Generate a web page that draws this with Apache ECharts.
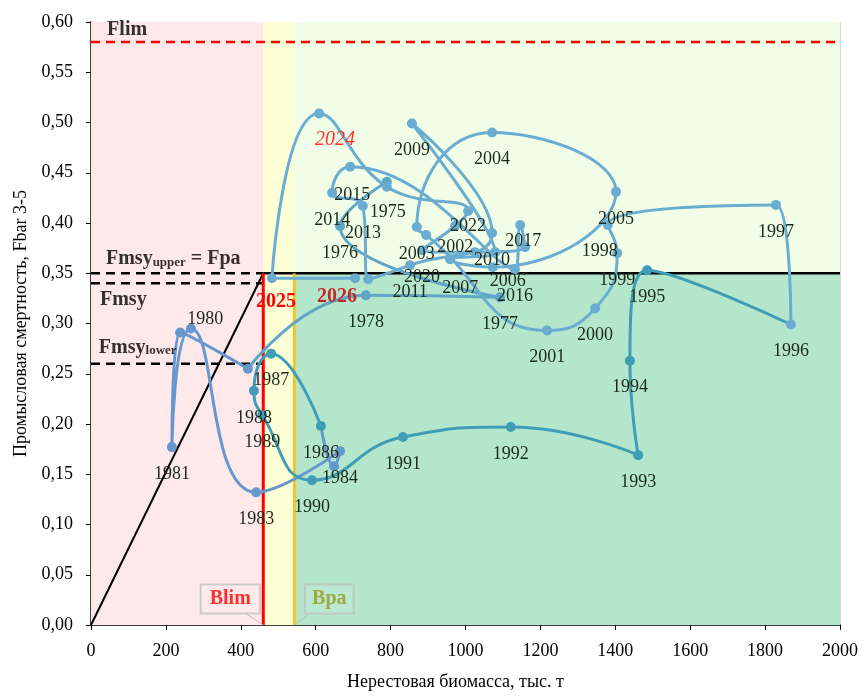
<!DOCTYPE html>
<html><head><meta charset="utf-8">
<script src="https://cdn.jsdelivr.net/npm/echarts@6/dist/echarts.min.js"></script>
<style>html,body{margin:0;padding:0;background:#fff}#c{width:867px;height:696px}</style>
</head><body><div id="c"></div>
<script>
// ---- data ----
const years = [1975,1976,1977,1978,1979,1980,1981,1982,1983,1984,1985,1986,1987,1988,1989,1990,1991,1992,1993,1994,1995,1996,1997,1998,1999,2000,2001,2002,2003,2004,2005,2006,2007,2008,2009,2010,2011,2012,2013,2014,2015,2016,2017,2018,2019,2020,2021,2022,2023,2024,2025,2026];
const ssb = [790,665,1092,734,419,238,216,267,441,665,649,614,481,435,457,590,833,1121,1461,1439,1485,1869,1829,1380,1405,1346,1218,895,870,1071,1402,1073,959,1079,857,1071,852,740,726,644,692,1132,1146,1159,1025,884,972,1007,790,609,483,705];
const fbar = [0.441,0.397,0.326,0.328,0.255,0.291,0.177,0.295,0.132,0.173,0.158,0.198,0.270,0.233,0.209,0.144,0.187,0.197,0.169,0.263,0.353,0.299,0.418,0.398,0.370,0.315,0.293,0.388,0.396,0.490,0.431,0.356,0.364,0.371,0.499,0.390,0.358,0.344,0.417,0.430,0.456,0.354,0.398,0.376,0.371,0.373,0.397,0.412,0.436,0.509,0.345,0.345];
const Blim = 460, Bpa = 543;
const Flim = 0.58, Fpa = 0.35, Fmsy = 0.34, FmsyLower = 0.26;
const xMin = 0, xMax = 2000, xStep = 200;
const yMin = 0, yMax = 0.6, yStep = 0.05;
const xTitle = 'Нерестовая биомасса, тыс. т';
const yTitle = 'Промысловая смертность, Fbar 3-5';

// ---- presentation config ----
const FONT = '"Liberation Serif", "Times New Roman", serif';
const hiddenLabels = [1979,1982,1985,2008,2012,2018,2019,2021,2023];
const labelOffsets = {1975:[1,30],1980:[25,-13],1998:[-8,26],2002:[29,12],2006:[15,14],2007:[10,29],2015:[2,29],2017:[3,16],2022:[0,15],2024:[16,26],2025:[4,24],2026:[-18,19]};
const specialLabels = {
  2024:{color:'#ff3333',fontStyle:'italic',fontSize:20},
  2025:{color:'#ff0000',fontWeight:'bold',fontSize:20},
  2026:{color:'#c0282a',fontWeight:'bold',fontSize:20}
};
const segments = [
  {from:1975,to:1979,color:'#5ea6c6'},
  {from:1979,to:1986,color:'#6797cf'},
  {from:1986,to:1996,color:'#3f9db5'},
  {from:1996,to:2026,color:'#6aadd0'}
];
function colorOf(y){
  for (let i=segments.length-1;i>=0;i--) if (y>=segments[i].from) return segments[i].color;
  return segments[0].color;
}

const series = [];
// background zones
series.push({
  type:'line', data:[], z:-1, silent:true,
  markArea:{silent:true, data:[
    [{xAxis:xMin,yAxis:yMin,itemStyle:{color:'#fde9e9'}},{xAxis:Blim,yAxis:yMax}],
    [{xAxis:Blim,yAxis:yMin,itemStyle:{color:'#fefed6'}},{xAxis:Bpa,yAxis:yMax}],
    [{xAxis:Bpa,yAxis:Fpa,itemStyle:{color:'#f2fde7'}},{xAxis:xMax,yAxis:yMax}],
    [{xAxis:Bpa,yAxis:yMin,itemStyle:{color:'#b4e6cc'}},{xAxis:xMax,yAxis:Fpa}]
  ]}
});
function ref(pts,color,width,type){
  series.push({type:'line',data:pts,showSymbol:false,silent:true,z:3,
    lineStyle:{color:color,width:width,type:type,cap:'butt'}});
}
ref([[xMin,Flim],[xMax,Flim]],'#ff0000',2.5,[9,6]);
ref([[Blim,Fpa],[xMax,Fpa]],'#000',2.5,'solid');
ref([[xMin,Fpa],[Blim,Fpa]],'#000',2.5,[9,6]);
ref([[xMin,Fmsy],[Blim,Fmsy]],'#000',2.5,[9,6]);
ref([[xMin,FmsyLower],[Blim,FmsyLower]],'#000',2.5,[9,6]);
ref([[xMin,0],[Blim,Fpa]],'#000',2,'solid');
ref([[Blim,yMin],[Blim,Fpa]],'#ff0000',3,'solid');
ref([[Bpa,yMin],[Bpa,Fpa]],'#ffc000',2.5,'solid');
// callout tails
ref([[411,0.012],[Blim,yMin]],'#bfbfbf',1,'solid');
ref([[585,0.012],[Bpa,yMin]],'#bfbfbf',1,'solid');

// trajectory lines by segment
segments.forEach(s=>{
  const pts=[];
  years.forEach((y,i)=>{ if(y>=s.from && y<=s.to) pts.push([ssb[i],fbar[i]]); });
  series.push({type:'line',data:pts,showSymbol:false,smooth:0.5,smoothConstraint:false,z:4,
    lineStyle:{color:s.color,width:3}});
});

// points + year labels
series.push({
  type:'scatter', z:5, symbolSize:10,
  data: years.map((y,i)=>{
    const off = labelOffsets[y] || [0,27];
    const sp = specialLabels[y] || {};
    return {
      value:[ssb[i],fbar[i]],
      itemStyle:{color:colorOf(y),opacity:1},
      label:Object.assign({show:hiddenLabels.indexOf(y)<0, position:'inside', offset:off,
        formatter:String(y), color:'#1c2a1c', fontSize:18, fontFamily:FONT}, sp)
    };
  })
});

// text annotations
const rich = {b:{fontFamily:FONT,fontWeight:'bold',fontSize:20,color:'#000'},
              s:{fontFamily:FONT,fontWeight:'bold',fontSize:13,color:'#000',padding:[6,0,0,0]}};
series.push({
  type:'scatter', z:6, symbolSize:0, silent:true,
  data:[
    {value:[43,0.592],label:{formatter:'{b|Flim}'}},
    {value:[40,0.364],label:{formatter:'{b|Fmsy}{s|upper}{b| = Fpa}'}},
    {value:[24,0.3236],label:{formatter:'{b|Fmsy}'}},
    {value:[21,0.276],label:{formatter:'{b|Fmsy}{s|lower}'}}
  ],
  label:{show:true,position:'right',distance:0,rich:rich}
});
const boxLabel = {show:true,position:'inside',fontFamily:FONT,fontWeight:'bold',fontSize:20,
    borderColor:'#bfbfbf',borderWidth:1,backgroundColor:'rgba(255,255,255,0.1)'};
series.push({
  type:'scatter', z:6, symbolSize:0, silent:true,
  data:[
    {value:[Blim,0],label:Object.assign({},boxLabel,{formatter:'Blim',offset:[-33,-26],color:'#ff0000',padding:[5,9,4,9]})},
    {value:[Bpa,0],label:Object.assign({},boxLabel,{formatter:'Bpa',offset:[35,-26],color:'#9a9a1e',padding:[5,7,4,7]})}
  ]
});

const chart = echarts.init(document.getElementById('c'));
chart.setOption({
  animation:false,
  backgroundColor:'#fff',
  grid:{left:91,right:27,top:22,bottom:64,containLabel:false},
  xAxis:{type:'value',min:xMin,max:xMax,interval:xStep,
    name:xTitle,nameLocation:'middle',nameGap:48,
    nameTextStyle:{fontFamily:FONT,fontSize:18,color:'#000',padding:[0,20,0,0]},
    axisLine:{show:true,onZero:false,lineStyle:{color:'#000',width:1.5}},
    axisTick:{show:true,length:5,lineStyle:{color:'#000'}},
    axisLabel:{fontFamily:FONT,fontSize:18,color:'#000',margin:17,formatter:v=>String(v)},
    splitLine:{show:true,lineStyle:{color:'#d4d4d4',width:1}}},
  yAxis:{type:'value',min:yMin,max:yMax,interval:yStep,
    name:yTitle,nameLocation:'middle',nameGap:61,nameRotate:90,
    nameTextStyle:{fontFamily:FONT,fontSize:18,color:'#000'},
    axisLine:{show:true,onZero:false,lineStyle:{color:'#000',width:1.5}},
    axisTick:{show:true,length:5,lineStyle:{color:'#000'}},
    axisLabel:{fontFamily:FONT,fontSize:18,color:'#000',margin:18,
      formatter:v=>v.toFixed(2).replace('.',',')},
    splitLine:{show:false}},
  series:series
});
</script></body></html>
